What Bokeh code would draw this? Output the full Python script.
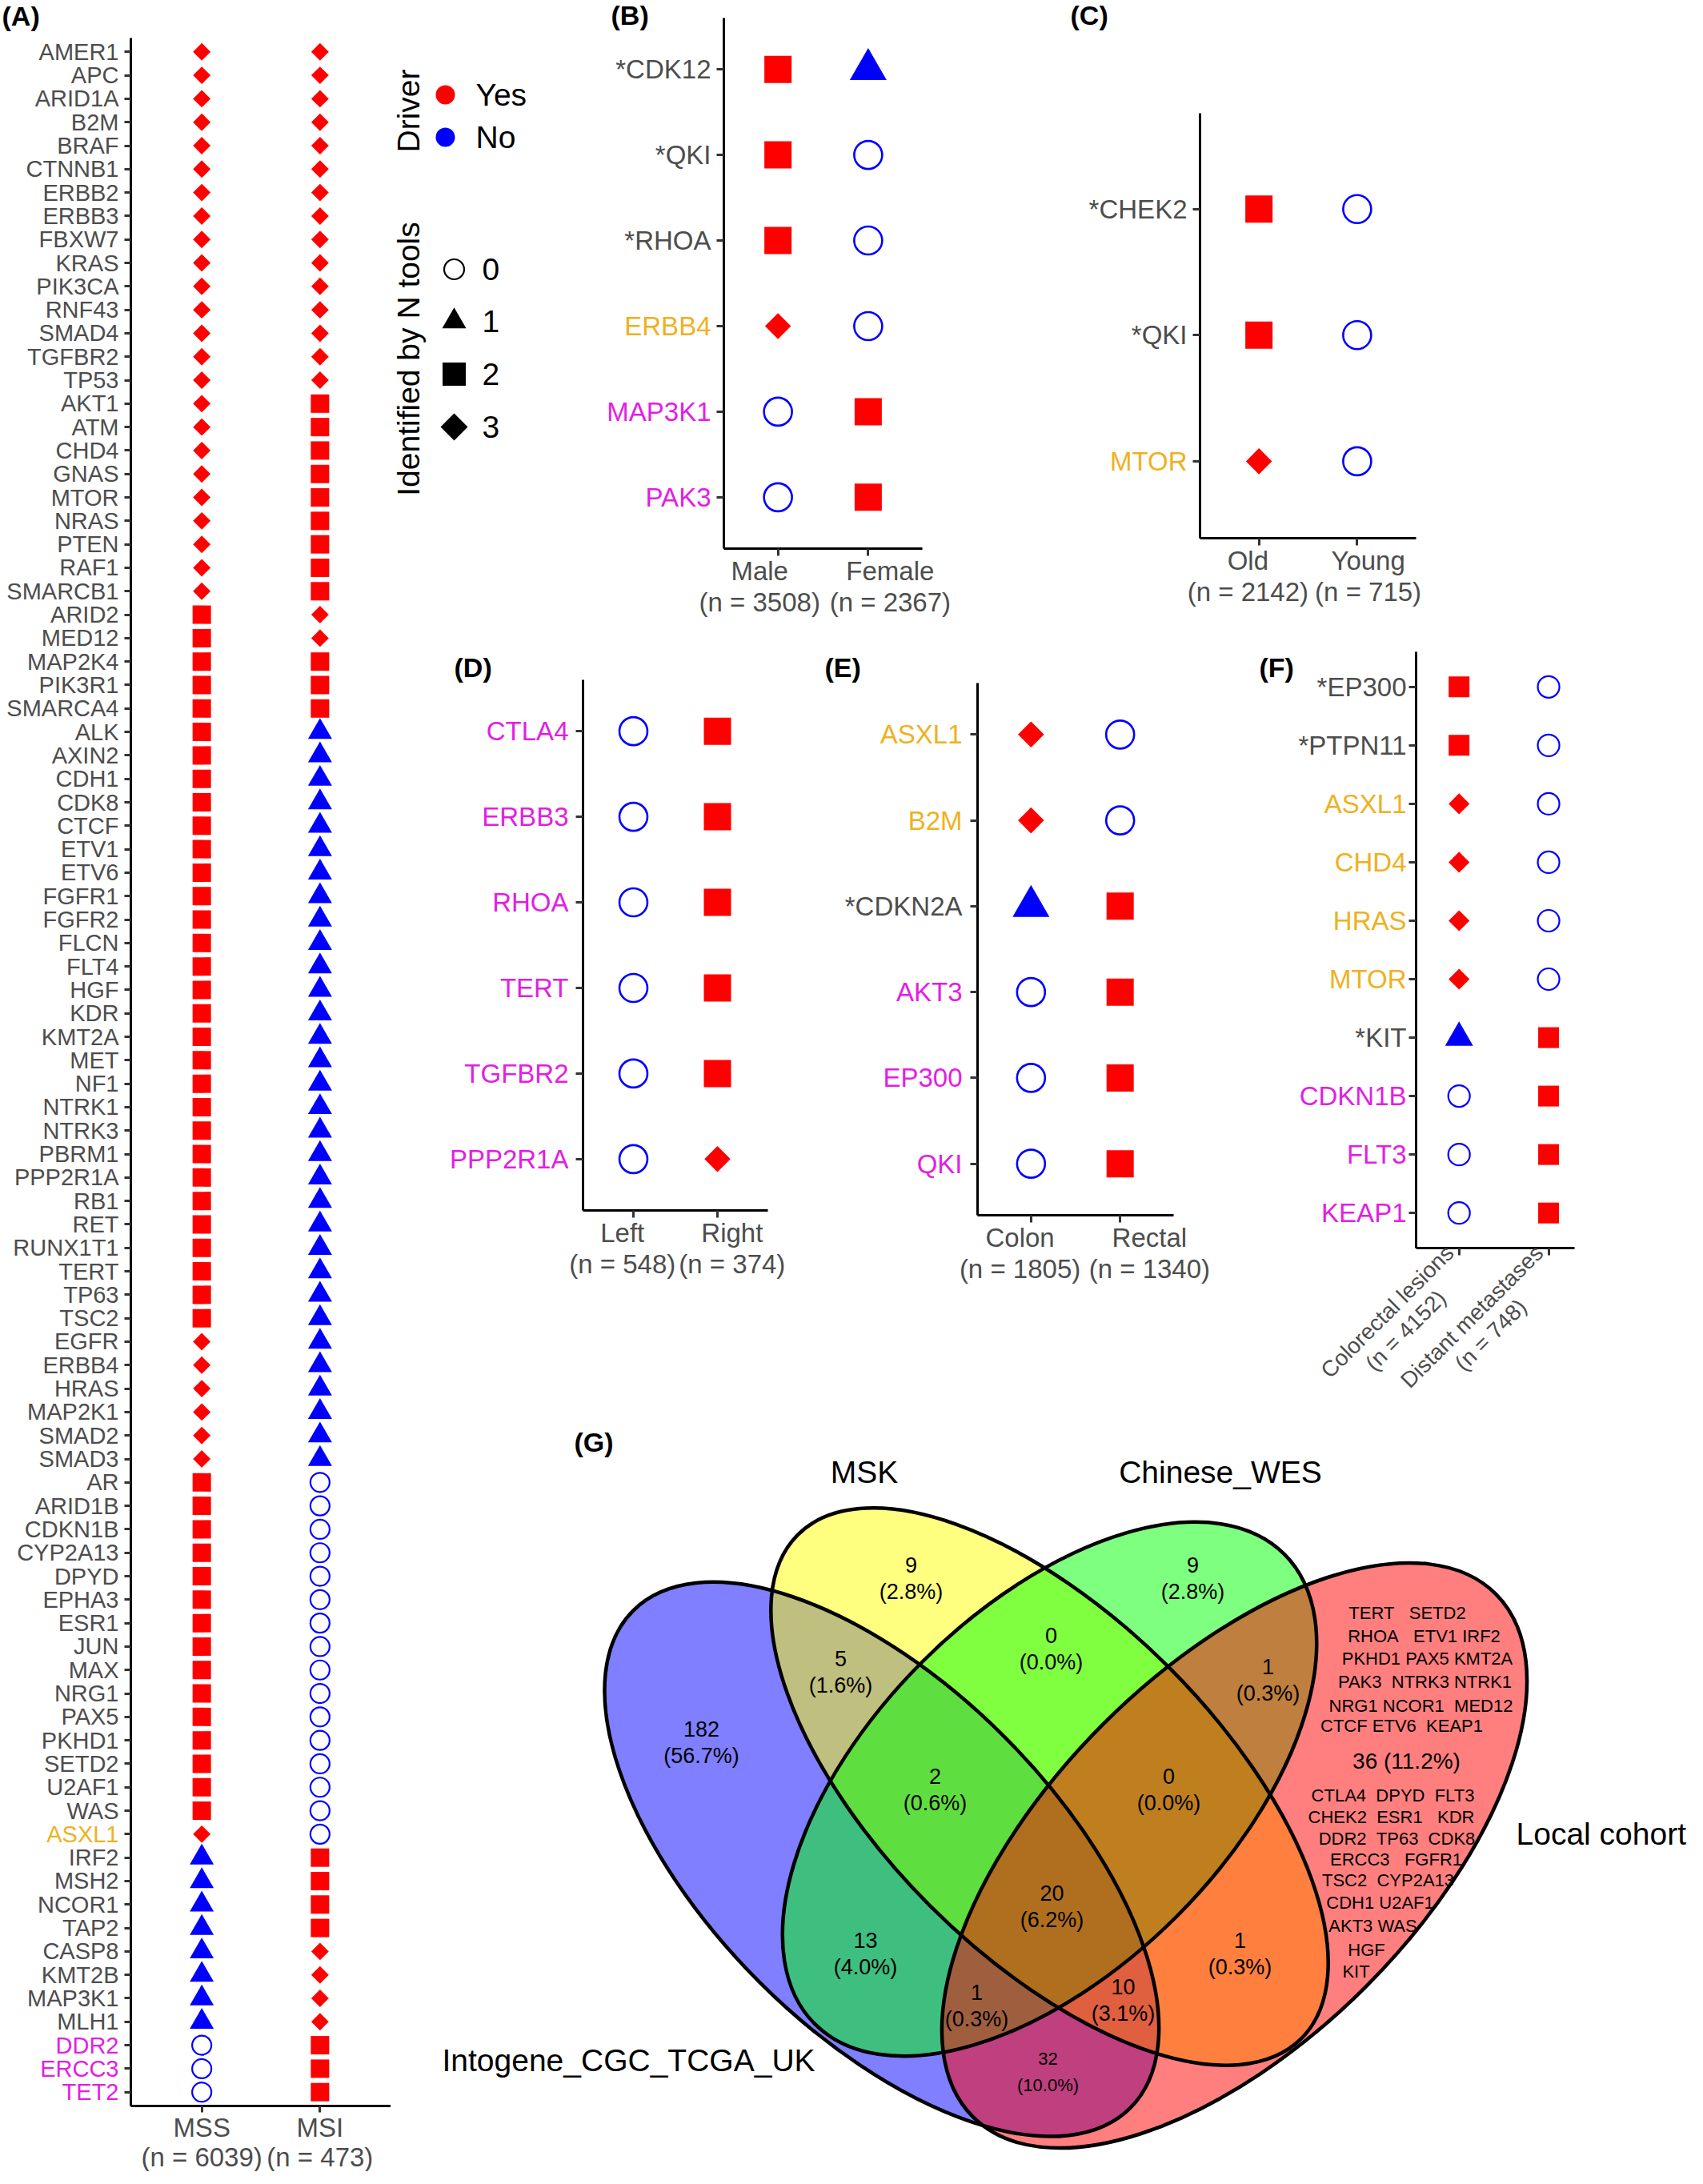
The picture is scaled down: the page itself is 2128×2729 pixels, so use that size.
import math
from bokeh.plotting import figure
from bokeh.models import Range1d, FixedTicker, LinearAxis, Label
from bokeh.models import ColumnDataSource
from bokeh.layouts import row, column
from bokeh.embed import file_html
from bokeh.resources import INLINE
from bokeh.core.properties import value

FONT = "Liberation Sans"
TXT = "#4D4D4D"
COLOR_OF = {"g": "#4D4D4D", "o": "#EFB11F", "m": "#E31EE3"}
RED, BLUE = "#FF0000", "#0000FF"
NBSP = "\u00a0"

# ---------------- DATA ----------------
# (A) MSS vs MSI : number of tools that identified the gene (0-3); driver = identified by >= 2 tools
a_genes = ["AMER1", "APC", "ARID1A", "B2M", "BRAF", "CTNNB1", "ERBB2", "ERBB3", "FBXW7", "KRAS",
           "PIK3CA", "RNF43", "SMAD4", "TGFBR2", "TP53",
           "AKT1", "ATM", "CHD4", "GNAS", "MTOR", "NRAS", "PTEN", "RAF1", "SMARCB1",
           "ARID2", "MED12", "MAP2K4", "PIK3R1", "SMARCA4",
           "ALK", "AXIN2", "CDH1", "CDK8", "CTCF", "ETV1", "ETV6", "FGFR1", "FGFR2", "FLCN",
           "FLT4", "HGF", "KDR", "KMT2A", "MET", "NF1", "NTRK1", "NTRK3", "PBRM1", "PPP2R1A",
           "RB1", "RET", "RUNX1T1", "TERT", "TP63", "TSC2",
           "EGFR", "ERBB4", "HRAS", "MAP2K1", "SMAD2", "SMAD3",
           "AR", "ARID1B", "CDKN1B", "CYP2A13", "DPYD", "EPHA3", "ESR1", "JUN", "MAX", "NRG1",
           "PAX5", "PKHD1", "SETD2", "U2AF1", "WAS",
           "ASXL1", "IRF2", "MSH2", "NCOR1", "TAP2", "CASP8", "KMT2B", "MAP3K1", "MLH1",
           "DDR2", "ERCC3", "TET2"]
a_mss = [3, 3, 3, 3, 3, 3, 3, 3, 3, 3, 3, 3, 3, 3, 3,
         3, 3, 3, 3, 3, 3, 3, 3, 3,
         2, 2, 2, 2, 2,
         2, 2, 2, 2, 2, 2, 2, 2, 2, 2, 2, 2, 2, 2, 2, 2, 2, 2, 2, 2, 2, 2, 2, 2, 2, 2,
         3, 3, 3, 3, 3, 3,
         2, 2, 2, 2, 2, 2, 2, 2, 2, 2, 2, 2, 2, 2, 2,
         3, 1, 1, 1, 1, 1, 1, 1, 1,
         0, 0, 0]
a_msi = [3, 3, 3, 3, 3, 3, 3, 3, 3, 3, 3, 3, 3, 3, 3,
         2, 2, 2, 2, 2, 2, 2, 2, 2,
         3, 3, 2, 2, 2,
         1, 1, 1, 1, 1, 1, 1, 1, 1, 1, 1, 1, 1, 1, 1, 1, 1, 1, 1, 1, 1, 1, 1, 1, 1, 1,
         1, 1, 1, 1, 1, 1,
         0, 0, 0, 0, 0, 0, 0, 0, 0, 0, 0, 0, 0, 0, 0,
         0, 2, 2, 2, 2, 3, 3, 3, 3,
         2, 2, 2]
a_orange = ["ASXL1"]
a_magenta = ["DDR2", "ERCC3", "TET2"]
a_groups = ["MSS\n(n = 6039)", "MSI\n(n = 473)"]

# (B) Male vs Female
b_genes = ["*CDK12", "*QKI", "*RHOA", "ERBB4", "MAP3K1", "PAK3"]
b_gcol = ["g", "g", "g", "o", "m", "m"]
b_male = [2, 2, 2, 3, 0, 0]
b_female = [1, 0, 0, 0, 2, 2]
b_groups = ["Male\n(n = 3508)", "Female\n(n = 2367)"]

# (C) Old vs Young
c_genes = ["*CHEK2", "*QKI", "MTOR"]
c_gcol = ["g", "g", "o"]
c_old = [2, 2, 3]
c_young = [0, 0, 0]
c_groups = ["Old\n(n = 2142)", "Young\n(n = 715)"]

# (D) Left vs Right
d_genes = ["CTLA4", "ERBB3", "RHOA", "TERT", "TGFBR2", "PPP2R1A"]
d_gcol = ["m", "m", "m", "m", "m", "m"]
d_left = [0, 0, 0, 0, 0, 0]
d_right = [2, 2, 2, 2, 2, 3]
d_groups = ["Left\n(n = 548)", "Right\n(n = 374)"]

# (E) Colon vs Rectal
e_genes = ["ASXL1", "B2M", "*CDKN2A", "AKT3", "EP300", "QKI"]
e_gcol = ["o", "o", "g", "m", "m", "m"]
e_colon = [3, 3, 1, 0, 0, 0]
e_rectal = [0, 0, 2, 2, 2, 2]
e_groups = ["Colon\n(n = 1805)", "Rectal\n(n = 1340)"]

# (F) Colorectal lesions vs Distant metastases
f_genes = ["*EP300", "*PTPN11", "ASXL1", "CHD4", "HRAS", "MTOR", "*KIT", "CDKN1B", "FLT3", "KEAP1"]
f_gcol = ["g", "g", "o", "o", "o", "o", "g", "m", "m", "m"]
f_crc = [2, 2, 3, 3, 3, 3, 1, 0, 0, 0]
f_met = [0, 0, 0, 0, 0, 0, 2, 2, 2, 2]
f_groups = ["Colorectal lesions\n(n = 4152)", "Distant metastases\n(n = 748)"]

# (G) Venn diagram
venn_sets = ["Intogene_CGC_TCGA_UK", "MSK", "Chinese_WES", "Local cohort"]
venn_regions = ["I", "M", "W", "MW", "IM", "WL", "IMW", "MWL", "IMWL", "IW", "ML", "IWL", "IML", "IL", "L"]
venn_counts = [182, 9, 9, 0, 5, 1, 2, 0, 20, 13, 1, 1, 10, 32, 36]
local_only_lines_top = ["TERT   SETD2", "RHOA   ETV1 IRF2", "PKHD1 PAX5 KMT2A",
                        "PAK3  NTRK3 NTRK1", "NRG1 NCOR1  MED12", "CTCF ETV6  KEAP1"]
local_only_lines_bot = ["CTLA4  DPYD  FLT3", "CHEK2  ESR1   KDR", "DDR2  TP63  CDK8",
                        "ERCC3   FGFR1", "TSC2  CYP2A13", "CDH1 U2AF1", "AKT3 WAS", "HGF", "KIT"]

# ---------------- LAYOUT / STYLE ----------------
SZ_BIG = dict(c=35, t=46, s=34, d=23, lw=2.6)
SZ_A = dict(c=24, t=30, s=23, d=15.5, lw=2.2)
SZ_F = dict(c=27, t=35, s=26, d=18.5, lw=2.2)


def style_axis(ax, tick, fs):
    ax.axis_line_color = "black"
    ax.axis_line_width = 3
    ax.major_tick_line_color = "#333333"
    ax.major_tick_line_width = 3
    ax.major_tick_out = int(tick)
    ax.major_tick_in = 0
    ax.minor_tick_line_color = None
    ax.major_label_text_font = FONT
    ax.major_label_text_font_size = f"{fs}px"
    ax.major_label_text_color = TXT
    ax.major_label_text_line_height = 1.06


def shifted(label, shift_px, fs):
    # pad every line with no-break spaces so that the centred block moves sideways
    if shift_px == 0:
        return label
    k = int(round(2 * abs(shift_px) / (0.278 * fs)))
    pad = NBSP * k
    lines = label.split("\n")
    if shift_px < 0:
        return "\n".join(l + pad for l in lines)
    return "\n".join(pad + l for l in lines)


def centred_rotated(label, n_pad):
    # rotated labels are right-aligned by the axis: pad the short second line so the lines look centred
    first, second = label.split("\n")
    return first + "\n" + second + NBSP * n_pad


def add_shapes(p, cols, sz):
    groups = {0: ([], []), 1: ([], []), 2: ([], []), 3: ([], [])}
    for ci, vals in enumerate(cols):
        for gi, v in enumerate(vals):
            groups[v][0].append(ci + 1)
            groups[v][1].append(gi)

    def col(v):
        return RED if v >= 2 else BLUE

    def src(v):
        return ColumnDataSource(dict(x=groups[v][0], y=groups[v][1]))

    p.scatter("x", "y", source=src(0), marker="circle", size=sz["c"], fill_color=None,
              line_color=col(0), line_width=sz["lw"])
    p.scatter("x", "y", source=src(1), marker="triangle", size=sz["t"], fill_color=col(1),
              line_color=None)
    p.scatter("x", "y", source=src(2), marker="square", size=sz["s"], fill_color=col(2),
              line_color=None)
    p.scatter("x", "y", source=src(3), marker="square", angle=math.pi / 4, size=sz["d"],
              fill_color=col(3), line_color=None)


def dot_panel(W, H, frame, xr, yr, genes, gcol, cols, groups, sz, gene_fs, x_fs, tick, ystand,
              tag, tag_xy, orient=None, labels=None, xstand=0, line_h=1.06):
    fl, fr, ft, fb = frame

    def X(px):
        return xr[0] + (px - fl) * (xr[1] - xr[0]) / (fr - fl)

    def Y(py):
        return yr[0] + (py - ft) * (yr[1] - yr[0]) / (fb - ft)

    p = figure(width=W, height=H, x_range=Range1d(X(0), X(W)), y_range=Range1d(Y(H), Y(0)),
               x_axis_type=None, y_axis_type=None, min_border=0, output_backend="svg",
               toolbar_location=None)
    p.outline_line_color = None
    if labels is None:
        labels = groups
    xa = LinearAxis(fixed_location=yr[1], bounds=(xr[0], xr[1]),
                    ticker=FixedTicker(ticks=list(range(1, len(groups) + 1))),
                    major_label_overrides={i + 1: g for i, g in enumerate(labels)})
    style_axis(xa, tick, x_fs)
    xa.major_label_standoff = xstand
    xa.major_label_text_line_height = line_h
    if orient is not None:
        xa.major_label_orientation = orient
    p.add_layout(xa, "below")
    first = True
    for ckey in ("g", "o", "m"):
        idx = [i for i, c in enumerate(gcol) if c == ckey]
        if not idx:
            continue
        ya = LinearAxis(fixed_location=xr[0], bounds=(yr[0], yr[1]),
                        ticker=FixedTicker(ticks=idx),
                        major_label_overrides={i: genes[i] for i in idx})
        style_axis(ya, tick, gene_fs)
        ya.major_label_text_color = COLOR_OF[ckey]
        ya.major_label_standoff = ystand
        if not first:
            ya.axis_line_color = None
        first = False
        p.add_layout(ya, "left")
    add_shapes(p, cols, sz)
    p.add_layout(Label(x=X(tag_xy[0]), y=Y(tag_xy[1]), text=tag, text_font=FONT,
                       text_font_size="34px", text_font_style="bold", text_align="left",
                       text_baseline="middle", text_color="black"))
    return p


# Panel A (full height on the left)
a_gcol = ["o" if g in a_orange else ("m" if g in a_magenta else "g") for g in a_genes]
pA = dot_panel(488, 2713, (163, 488, 47, 2631), (0.4, 2.6), (-0.59, 87.59), a_genes, a_gcol,
               [a_mss, a_msi], a_groups, SZ_A, 29, 33, 8, 7, "(A)", (2, 19), line_h=1.0)

# Legend for panel A
LW, LH = 264, 797
pl = figure(width=LW, height=LH, x_range=Range1d(0, LW), y_range=Range1d(0, LH),
            x_axis_type=None, y_axis_type=None, min_border=0, output_backend="svg",
            toolbar_location=None)
pl.outline_line_color = None


def yu(y):
    return LH - y


txt_kw = dict(text_font=value(FONT), text_font_size=value("39px"), text_color="black",
              text_baseline="middle")
pl.text(x=[22, 22], y=[yu(138), yu(448)], text=["Driver", "Identified by N tools"],
        angle=math.pi / 2, text_align="center", **txt_kw)
pl.scatter(x=[68, 68], y=[yu(118), yu(171)], marker="circle", size=24,
           fill_color=[RED, BLUE], line_color=None)
pl.text(x=[106, 106], y=[yu(118), yu(171)], text=["Yes", "No"], text_align="left", **txt_kw)
pl.scatter(x=[79], y=[yu(336)], marker="circle", size=25, fill_color=None, line_color="black",
           line_width=2.2)
pl.scatter(x=[79], y=[yu(401)], marker="triangle", size=30, fill_color="black", line_color=None)
pl.scatter(x=[79], y=[yu(467)], marker="square", size=29, fill_color="black", line_color=None)
pl.scatter(x=[79], y=[yu(533)], marker="square", angle=math.pi / 4, size=24, fill_color="black",
           line_color=None)
pl.text(x=[114] * 4, y=[yu(336), yu(401), yu(467), yu(533)], text=["0", "1", "2", "3"],
        text_align="left", **txt_kw)


def shifted_pair(groups, shifts, fs):
    return [shifted(g, s, fs) for g, s in zip(groups, shifts)]


pB = dot_panel(570, 797, (152, 400, 22, 685), (0.4, 2.6), (-0.6, 5.6), b_genes, b_gcol,
               [b_male, b_female], b_groups, SZ_BIG, 33, 33, 9, 7, "(B)", (11, 18),
               labels=shifted_pair(b_groups, (-24, 28), 33))
pC = dot_panel(790, 797, (177, 447, 141, 672), (0.4, 2.6), (-0.76, 2.61), c_genes, c_gcol,
               [c_old, c_young], c_groups, SZ_BIG, 33, 33, 9, 7, "(C)", (15, 18),
               labels=shifted_pair(c_groups, (-13, 15), 33))
pD = dot_panel(514, 960, (240, 471, 52, 715), (0.4, 2.6), (-0.6, 5.6), d_genes, d_gcol,
               [d_left, d_right], d_groups, SZ_BIG, 33, 33, 9, 9, "(D)", (79, 36),
               labels=shifted_pair(d_groups, (-16, 20), 33))
pE = dot_panel(535, 960, (219, 464, 56, 721), (0.4, 2.6), (-0.6, 5.6), e_genes, e_gcol,
               [e_colon, e_rectal], e_groups, SZ_BIG, 33, 33, 9, 10, "(E)", (28, 36),
               labels=shifted_pair(e_groups, (-13, 35), 33))
pF = dot_panel(575, 960, (232, 430, 17, 762), (0.52, 2.29), (-0.6, 9.6), f_genes, f_gcol,
               [f_crc, f_met], f_groups, SZ_F, 33, 28, 9, 3, "(F)", (36, 36),
               orient=math.pi / 4, xstand=4,
               labels=[centred_rotated(f_groups[0], 6), centred_rotated(f_groups[1], 8)])

# Panel G : Venn diagram (coordinates in pixels of this panel, y up)
GW, GH = 1624, 956
OX, OY = 496, 1765


def gx(x):
    return x - OX


def gy(y):
    return GH - (y - OY)


pg = figure(width=GW, height=GH, x_range=Range1d(0, GW), y_range=Range1d(0, GH),
            x_axis_type=None, y_axis_type=None, min_border=0, output_backend="svg",
            toolbar_location=None)
pg.outline_line_color = None

ell_centers = [(1109.3, 2330.7), (1319, 2240), (1319, 2243), (1550, 2326)]
ell_axes = [(439.3, 216.6), (445, 211), (415, 225), (462, 232)]
ell_angles = [-45, -45, 45, 45]
ell_fill = ["#0000FF", "#FFFF00", "#00FF00", "#FF0000"]
for (cx, cy), (ea, eb), ang, fc in zip(ell_centers, ell_axes, ell_angles, ell_fill):
    pg.ellipse(x=[gx(cx)], y=[gy(cy)], width=[2 * ea], height=[2 * eb], angle=math.radians(ang),
               fill_color=fc, fill_alpha=0.5, line_color=None)
for (cx, cy), (ea, eb), ang in zip(ell_centers, ell_axes, ell_angles):
    pg.ellipse(x=[gx(cx)], y=[gy(cy)], width=[2 * ea], height=[2 * eb], angle=math.radians(ang),
               fill_color=None, line_color="black", line_width=4.5)

total = sum(venn_counts)
region_pos = {"I": (884, 2168), "M": (1146, 1963), "W": (1498, 1963), "MW": (1321, 2051),
              "IM": (1058, 2080), "WL": (1592, 2090), "IMW": (1176, 2227), "MWL": (1468, 2227),
              "IMWL": (1322, 2373), "IW": (1089, 2432), "ML": (1557, 2432), "IWL": (1228, 2497),
              "IML": (1411, 2490), "IL": (1317, 2580)}
vkw = dict(text_font=value(FONT), text_color="black", text_align="center", text_baseline="middle")
for reg, cnt in zip(venn_regions, venn_counts):
    pct = f"({100.0 * cnt / total:.1f}%)"
    if reg == "L":
        pg.text(x=[gx(1765)], y=[gy(2208)], text=[f"{cnt} {pct}"],
                text_font_size=value("28px"), **vkw)
        continue
    x, y = region_pos[reg]
    fs = "22px" if reg == "IL" else "27px"
    pg.text(x=[gx(x), gx(x)], y=[gy(y), gy(y + 33)], text=[str(cnt), pct],
            text_font_size=value(fs), **vkw)

top_pos = [(1766, 2023), (1787, 2052), (1791, 2080), (1788, 2109), (1783, 2139), (1759, 2164)]
bot_pos = [(1748, 2251), (1746, 2278), (1753, 2305), (1752, 2331), (1742, 2357), (1732, 2385),
           (1723, 2414), (1715, 2444), (1702, 2471)]
for lines, pos in ((local_only_lines_top, top_pos), (local_only_lines_bot, bot_pos)):
    pg.text(x=[gx(p[0]) for p in pos], y=[gy(p[1]) for p in pos],
            text=[l.replace(" ", NBSP) for l in lines],
            text_font_size=value("22px"), **vkw)

skw = dict(text_font=value(FONT), text_color="black", text_baseline="middle",
           text_font_size=value("39px"))
pg.text(x=[gx(1087.5), gx(1532.5)], y=[gy(1847), gy(1847)], text=[venn_sets[1], venn_sets[2]],
        text_align="center", **skw)
pg.text(x=[gx(1902)], y=[gy(2299)], text=[venn_sets[3]], text_align="left", **skw)
pg.text(x=[gx(560)], y=[gy(2582)], text=[venn_sets[0]], text_align="left", **skw)
pg.text(x=[gx(725)], y=[gy(1809)], text=["(G)"], text_align="left", text_font=value(FONT),
        text_font_size=value("34px"), text_font_style="bold", text_color="black",
        text_baseline="middle")

layout = row(pA, column(row(pl, pB, pC), row(pD, pE, pF), pg))

open("out.html", "w").write(file_html(layout, INLINE))
